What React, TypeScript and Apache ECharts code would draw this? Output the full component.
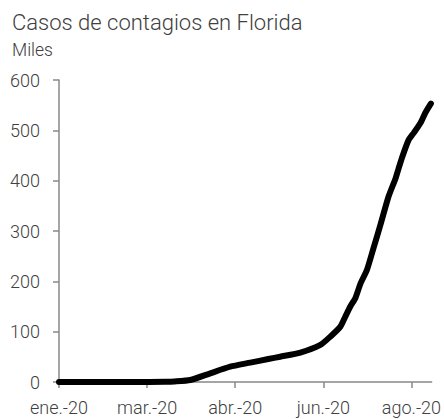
import React, { useEffect, useRef } from "react";
import * as echarts from "echarts";

// Day index counted from 22-Jan-2020; value in thousands of cases
const days = [0, 40, 58, 63, 71.5, 82.4, 93.3, 104.2, 114, 120.5, 131.5, 142.4, 147.8, 153.3, 156, 158.7, 161.5, 164.2, 167.8, 171.5, 175.1, 179.5, 183.3, 184.4, 187, 190.5, 193.3, 197, 199.6, 202.6];
const cases = [0, 0, 0.3, 1, 4, 17.3, 30.4, 38.4, 45.7, 50.3, 58.3, 73.6, 90, 110, 130, 150, 167, 195, 223, 268, 312, 368, 404, 417, 447, 481, 495, 515, 535, 553];
const tickLabels = ["ene.-20", "mar.-20", "abr.-20", "jun.-20", "ago.-20"];
const tickStep = 48;
const lastDay = 203;

const FONT = "Roboto, sans-serif";
const TXT = "#404040";

export default function App() {
  const ref = useRef<HTMLDivElement>(null);
  useEffect(() => {
    const chart = echarts.init(ref.current!, null, { renderer: "svg" });
    chart.setOption({
      animation: false,
      backgroundColor: "#fff",
      title: {
        text: "Casos de contagios en Florida",
        subtext: "Miles",
        left: 7,
        top: 6,
        itemGap: 8,
        textStyle: { fontFamily: FONT, fontSize: 22, fontWeight: 300, color: TXT },
        subtextStyle: { fontFamily: FONT, fontSize: 17.5, fontWeight: 300, color: TXT },
      },
      grid: { left: 59, right: 12, top: 80, bottom: 37, containLabel: false },
      xAxis: {
        type: "value",
        min: 0,
        max: lastDay,
        interval: tickStep,
        splitLine: { show: false },
        axisLine: { lineStyle: { color: "#888", width: 1.5 } },
        axisTick: { length: 6, lineStyle: { color: "#888", width: 1.5 } },
        axisLabel: {
          fontFamily: FONT,
          fontSize: 18,
          fontWeight: 300,
          color: TXT,
          margin: 16,
          showMaxLabel: false,
          formatter: (v: number) => tickLabels[Math.round(v / tickStep)] ?? "",
        },
      },
      yAxis: {
        type: "value",
        min: 0,
        max: 600,
        interval: 100,
        splitLine: { show: false },
        axisLine: { show: true, lineStyle: { color: "#888", width: 1.5 } },
        axisTick: { show: true, length: 6, lineStyle: { color: "#888", width: 1.5 } },
        axisLabel: { fontFamily: FONT, fontSize: 18, fontWeight: 300, color: TXT, margin: 19 },
      },
      series: [
        {
          type: "line",
          data: days.map((d, i) => [d, cases[i]]),
          showSymbol: false,
          smooth: 0.2,
          lineStyle: { color: "#000", width: 6, cap: "round", join: "round" },
        },
      ],
    });
    return () => chart.dispose();
  }, []);
  return <div ref={ref} style={{ width: 444, height: 419, position: "absolute", left: 0, top: 0 }} />;
}
